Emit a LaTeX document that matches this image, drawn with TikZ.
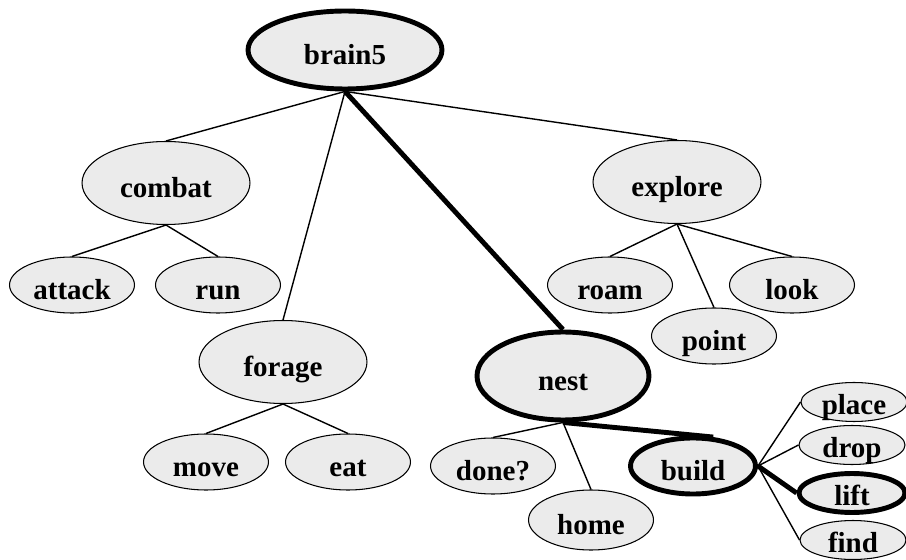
\documentclass[tikz,border=0pt]{standalone}
\usepackage{fontspec}
\setmainfont{Liberation Serif}
\usepackage{tikz}
\usetikzlibrary{shapes.geometric, positioning, calc}
\definecolor{NodeGray}{HTML}{EBEBEB}

\tikzset{
    behav/.style={ellipse, draw=black, fill=NodeGray, line width=0.6pt, inner sep=0pt,
                  text height=16pt, text depth=0pt,
                  font=\fontsize{16.5}{18}\selectfont\bfseries},
    root/.style={behav, minimum width=3.88cm, minimum height=1.56cm},
    group/.style={behav, minimum width=3.36cm, minimum height=1.66cm},
    leaf/.style={behav, minimum width=2.5cm, minimum height=1.12cm},
    tiny/.style={behav, minimum width=2.12cm, minimum height=0.78cm, text height=14pt},
    active/.style={line width=2.8pt},
    link/.style={line width=0.8pt},
    activelink/.style={line width=2.8pt}
}

\begin{document}
\begin{tikzpicture}[x=0.02cm, y=-0.02cm]
    \useasboundingbox (0,0) rectangle (906,560);

    % Root
    \node[root, active] (brain) at (345,50) {brain5};

    % Combat branch
    \node[group] (combat) at (166,183) {combat};
    \node[leaf] (attack) at (72,285) {attack};
    \node[leaf] (run) at (218,285) {run};

    % Forage branch
    \node[group] (forage) at (283,362) {forage};
    \node[leaf] (move) at (206,462) {move};
    \node[leaf] (eat) at (348,462) {eat};

    % Explore branch
    \node[group] (explore) at (677,182) {explore};
    \node[leaf] (roam) at (610,285) {roam};
    \node[leaf] (point) at (714,336) {point};
    \node[leaf] (look) at (792,285) {look};

    % Nest branch (active path)
    \node[group, active, minimum width=3.44cm, minimum height=1.76cm] (nest) at (563,376) {nest};
    \node[leaf] (done) at (493,466) {done?};
    \node[leaf, minimum height=1.2cm] (home) at (591,520) {home};
    \node[leaf, active] (build) at (693,466) {build};
    \node[tiny] (place) at (854,402) {place};
    \node[tiny] (drop) at (852,445) {drop};
    \node[tiny, active] (lift) at (852,493) {lift};
    \node[tiny] (find) at (853,540) {find};

    % Links
    \draw[link] (brain.south) -- (combat.north);
    \draw[link] (brain.south) -- (forage.north);
    \draw[link] (brain.south) -- (explore.north);
    \draw[activelink] (brain.south) -- (nest.north);

    \draw[link] (combat.south) -- (attack.north);
    \draw[link] (combat.south) -- (run.north);
    \draw[link] (forage.south) -- (move.north);
    \draw[link] (forage.south) -- (eat.north);
    \draw[link] (explore.south) -- (roam.north);
    \draw[link] (explore.south) -- (point.north);
    \draw[link] (explore.south) -- (look.north);

    \draw[link] (nest.south) -- (done.north);
    \draw[link] (nest.south) -- (home.north);
    \draw[activelink] (nest.south) -- (build.55);

    \draw[link] (build.east) -- (place.west);
    \draw[link] (build.east) -- (drop.west);
    \draw[activelink] (build.east) -- (lift.west);
    \draw[link] (build.east) -- (find.west);
\end{tikzpicture}
\end{document}
